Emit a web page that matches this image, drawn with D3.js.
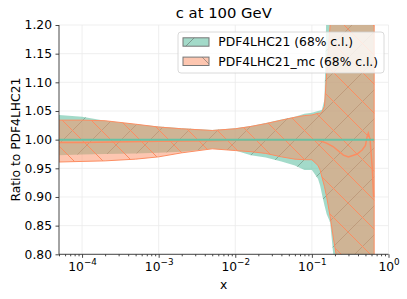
<!DOCTYPE html>
<html>
<head>
<meta charset="utf-8">
<script src="https://cdn.jsdelivr.net/npm/d3@7"></script>
<style>
  body { margin: 0; background: #fff; }
  text { font-family: "DejaVu Sans", sans-serif; fill: #000; }
</style>
</head>
<body>
<svg id="chart" width="407" height="299"></svg>
<script>
// band grid (x) and the two 68% c.l. bands, ratio to PDF4LHC21
var bandX = [5e-5, 1e-4, 2e-4, 5e-4, 1e-3, 2e-3, 5e-3, 1e-2, 1.6e-2, 2.5e-2, 4e-2, 6e-2, 8e-2, 0.1, 0.12, 0.128, 0.135, 0.146, 0.156, 0.173, 0.19, 0.207, 0.25, 0.3, 0.4, 0.5, 0.65];
var refUp  = [1.043, 1.040, 1.033, 1.027, 1.023, 1.020, 1.017, 1.020, 1.024, 1.029, 1.035, 1.040, 1.045, 1.047, 1.050, 1.051, 1.052, 1.07, 1.25, 1.4, 1.5, 1.6, 1.7, 1.8, 1.9, 2.0, 2.0];
var refLo  = [0.973, 0.974, 0.975, 0.976, 0.977, 0.979, 0.984, 0.981, 0.973, 0.969, 0.962, 0.955, 0.947, 0.947, 0.932, 0.920, 0.905, 0.885, 0.870, 0.856, 0.800, 0.750, 0.65, 0.55, 0.45, 0.35, 0.3];
var mcUp   = [1.034, 1.034, 1.033, 1.027, 1.022, 1.019, 1.016, 1.019, 1.023, 1.028, 1.034, 1.039, 1.042, 1.043, 1.046, 1.046, 1.048, 1.058, 1.116, 1.2, 1.27, 1.33, 1.45, 1.6, 1.8, 2.0, 2.0];
var mcLo   = [0.961, 0.962, 0.963, 0.966, 0.970, 0.977, 0.984, 0.981, 0.979, 0.976, 0.970, 0.966, 0.965, 0.965, 0.955, 0.947, 0.935, 0.918, 0.900, 0.866, 0.830, 0.800, 0.72, 0.62, 0.5, 0.4, 0.3];

// central values
var refX = [5e-5, 0.65];
var refC = [1.0, 1.0];
var mcX = [5e-5, 1e-4, 1e-3, 5e-3, 1e-2, 5e-2, 0.1, 0.128, 0.155, 0.189, 0.258, 0.3, 0.39, 0.453, 0.5, 0.526, 0.545, 0.575, 0.612, 0.64];
var mcC = [0.995, 0.995, 0.997, 0.998, 0.999, 1.0, 1.0, 0.998, 0.994, 0.988, 0.973, 0.970, 0.975, 0.982, 0.990, 1.005, 1.011, 1.0, 0.953, 0.90];

var yTicks = [0.80, 0.85, 0.90, 0.95, 1.00, 1.05, 1.10, 1.15, 1.20];
var xTicks = [1e-4, 1e-3, 1e-2, 1e-1, 1];
var xTickExp = ["\u22124", "\u22123", "\u22122", "\u22121", "0"];
var labels = ["PDF4LHC21 (68% c.l.)", "PDF4LHC21_mc (68% c.l.)"];

var tealCol = "#66c2a5", orangeCol = "#fc8d62";

var svg = d3.select("#chart");
var pL = 59, pR = 388.5, pT = 25, pB = 254.3;

var x = d3.scaleLog().domain([5e-5, 1]).range([pL, pR]);
var y = d3.scaleLinear().domain([0.8, 1.2]).range([pB, pT]);

var defs = svg.append("defs");
defs.append("clipPath").attr("id", "clip")
  .append("rect").attr("x", pL).attr("y", pT).attr("width", pR - pL).attr("height", pB - pT);

function hatch(id, dir, col, w) {
  var s = 29;
  var p = defs.append("pattern").attr("id", id).attr("patternUnits", "userSpaceOnUse")
    .attr("width", s).attr("height", s);
  var d = dir == "/" ? "M0," + s + "L" + s + ",0M-3,3L3,-3M" + (s-3) + "," + (s+3) + "L" + (s+3) + "," + (s-3)
                     : "M0,0L" + s + "," + s + "M-3," + (s-3) + "L3," + (s+3) + "M" + (s-3) + ",-3L" + (s+3) + ",3";
  p.append("path").attr("d", d).attr("stroke", col).attr("stroke-width", w).attr("fill", "none");
}
hatch("hRef", "/", "rgba(80,100,80,0.5)", 0.8);
hatch("hMc", "\\", orangeCol, 1);
hatch("hLegA", "/", "rgba(80,80,80,0.6)", 0.8);
hatch("hLegB", "\\", "rgba(80,80,80,0.6)", 0.8);

// grid
var grid = svg.append("g");
grid.selectAll(".gy").data(yTicks).enter().append("line")
  .attr("x1", pL).attr("x2", pR).attr("y1", d => y(d)).attr("y2", d => y(d))
  .attr("stroke", "#ebebeb").attr("stroke-width", 0.8);
grid.selectAll(".gx").data(xTicks).enter().append("line")
  .attr("x1", d => x(d)).attr("x2", d => x(d)).attr("y1", pT).attr("y2", pB)
  .attr("stroke", "#ebebeb").attr("stroke-width", 0.8);

var plot = svg.append("g").attr("clip-path", "url(#clip)");

function band(up, lo) {
  return d3.area().x((d, i) => x(bandX[i])).y0((d, i) => y(lo[i])).y1((d, i) => y(up[i]))(bandX);
}

plot.append("path").attr("d", band(refUp, refLo)).attr("fill", tealCol).attr("fill-opacity", 0.6);
plot.append("path").attr("d", band(refUp, refLo)).attr("fill", "url(#hRef)");
plot.append("path").attr("d", band(mcUp, mcLo)).attr("fill", orangeCol).attr("fill-opacity", 0.5);
plot.append("path").attr("d", band(mcUp, mcLo)).attr("fill", "url(#hMc)")
  .attr("stroke", orangeCol).attr("stroke-width", 1);

var line = d3.line().x(d => x(d[0])).y(d => y(d[1]));
plot.append("path").attr("d", line(d3.zip(mcX, mcC))).attr("fill", "none")
  .attr("stroke", orangeCol).attr("stroke-width", 1.5);
plot.append("path").attr("d", line(d3.zip(refX, refC))).attr("fill", "none")
  .attr("stroke", tealCol).attr("stroke-width", 2);

// axes
var yAxis = d3.axisLeft(y).tickValues(yTicks).tickSize(3.5).tickPadding(3.5).tickFormat(d3.format(".2f"));
var gy = svg.append("g").attr("transform", "translate(" + pL + ",0)").call(yAxis);
gy.select(".domain").attr("d", "M0," + pT + "V" + pB);

var minor = x.ticks().filter(d => xTicks.indexOf(d) < 0);
var gxm = svg.append("g").attr("transform", "translate(0," + pB + ")")
  .call(d3.axisBottom(x).tickValues(minor).tickSize(2).tickFormat(""));
gxm.select(".domain").remove();

var gx = svg.append("g").attr("transform", "translate(0," + pB + ")")
  .call(d3.axisBottom(x).tickValues(xTicks).tickSize(3.5).tickPadding(3.5).tickFormat(""));
gx.select(".domain").attr("d", "M" + pL + ",0H" + pR);
gx.selectAll(".tick text").each(function(d, i) {
  var t = d3.select(this).attr("y", 17.2).attr("dy", null);
  t.append("tspan").text("10");
  t.append("tspan").attr("dy", -6).attr("font-size", 8.8).text(xTickExp[i]);
});

svg.selectAll(".domain, .tick line").attr("stroke", "#333").attr("stroke-width", 0.9);
svg.selectAll(".tick text").attr("font-size", 12.3).attr("font-family", "DejaVu Sans").attr("fill", "#000");

// titles
svg.append("text").attr("x", (pL + pR) / 2).attr("y", 18.3).attr("text-anchor", "middle")
  .attr("font-size", 14.8).text("c at 100 GeV");
svg.append("text").attr("x", (pL + pR) / 2).attr("y", 288.5).attr("text-anchor", "middle")
  .attr("font-size", 12.3).text("x");
svg.append("text").attr("transform", "translate(19.5," + ((pT + pB) / 2) + ") rotate(-90)")
  .attr("text-anchor", "middle").attr("font-size", 12.3).text("Ratio to PDF4LHC21");

// legend
var leg = svg.append("g");
leg.append("rect").attr("x", 178).attr("y", 32).attr("width", 206).attr("height", 41).attr("rx", 3)
  .attr("fill", "#fff").attr("fill-opacity", 0.8).attr("stroke", "#d0d0d0").attr("stroke-width", 0.8);
var legFill = [[tealCol, 0.6, "url(#hLegA)"], [orangeCol, 0.5, "url(#hLegB)"]];
labels.forEach(function(l, i) {
  var cy = 42 + i * 19.3;
  leg.append("rect").attr("x", 183).attr("y", cy - 4.2).attr("width", 26).attr("height", 8.4)
    .attr("fill", legFill[i][0]).attr("fill-opacity", legFill[i][1]);
  leg.append("rect").attr("x", 183).attr("y", cy - 4.2).attr("width", 26).attr("height", 8.4)
    .attr("fill", legFill[i][2]).attr("stroke", "#777").attr("stroke-width", 1);
  leg.append("text").attr("x", 218.3).attr("y", cy + 4.4).attr("font-size", 12.3).text(l);
});
</script>
</body>
</html>
